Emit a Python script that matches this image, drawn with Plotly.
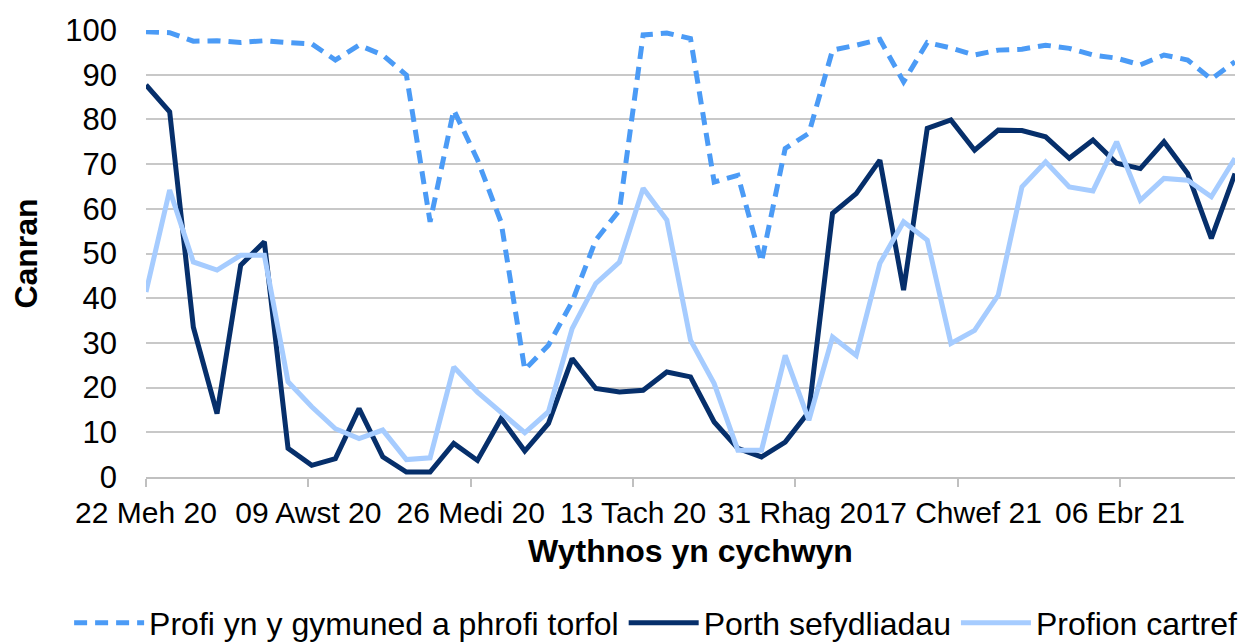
import plotly.graph_objects as go

weeks = [
    "2020-06-22", "2020-06-29", "2020-07-06", "2020-07-13", "2020-07-20", "2020-07-27",
    "2020-08-03", "2020-08-10", "2020-08-17", "2020-08-24", "2020-08-31", "2020-09-07",
    "2020-09-14", "2020-09-21", "2020-09-28", "2020-10-05", "2020-10-12", "2020-10-19",
    "2020-10-26", "2020-11-02", "2020-11-09", "2020-11-16", "2020-11-23", "2020-11-30",
    "2020-12-07", "2020-12-14", "2020-12-21", "2020-12-28", "2021-01-04", "2021-01-11",
    "2021-01-18", "2021-01-25", "2021-02-01", "2021-02-08", "2021-02-15", "2021-02-22",
    "2021-03-01", "2021-03-08", "2021-03-15", "2021-03-22", "2021-03-29", "2021-04-05",
    "2021-04-12", "2021-04-19", "2021-04-26", "2021-05-03", "2021-05-10",
]

profi_gymuned = [
    99.6, 99.4, 97.5, 97.6, 97.2, 97.6, 97.2, 96.9, 93.3, 96.6,
    94.4, 89.9, 57.1, 82.1, 71.0, 57.0, 24.0, 29.5, 39.2, 53.0,
    59.7, 98.9, 99.3, 98.1, 66.0, 67.5, 48.1, 73.5, 76.9, 95.5,
    96.6, 97.9, 88.4, 97.2, 96.0, 94.4, 95.5, 95.7, 96.6, 95.9,
    94.4, 93.7, 92.2, 94.4, 93.3, 89.0, 92.9,
]

porth_sefydliadau = [
    87.7, 81.7, 33.5, 14.2, 47.4, 52.6, 6.4, 2.6, 4.1, 15.3,
    4.5, 1.1, 1.1, 7.5, 3.7, 13.1, 5.8, 12.0, 26.5, 19.8,
    19.0, 19.4, 23.5, 22.4, 12.3, 6.4, 4.5, 7.8, 14.6, 59.0,
    63.4, 70.9, 41.8, 78.0, 79.9, 73.1, 77.6, 77.5, 76.1, 71.3,
    75.4, 70.2, 69.0, 75.0, 67.9, 53.4, 67.9,
]

profion_cartref = [
    41.4, 64.2, 48.1, 46.3, 49.6, 49.6, 21.3, 15.7, 10.8, 8.6,
    10.5, 3.9, 4.3, 24.6, 19.0, 14.6, 9.9, 14.6, 33.2, 43.3,
    48.1, 64.6, 57.5, 30.6, 20.9, 6.0, 6.0, 27.2, 12.7, 31.3,
    27.2, 47.8, 57.1, 53.0, 29.9, 32.8, 40.7, 64.9, 70.5, 64.9,
    64.0, 75.0, 61.9, 66.8, 66.4, 62.7, 71.3,
]

tick_dates = ["2020-06-22", "2020-08-09", "2020-09-26", "2020-11-13",
              "2020-12-31", "2021-02-17", "2021-04-06"]
tick_labels = ["22 Meh 20", "09 Awst 20", "26 Medi 20", "13 Tach 20",
               "31 Rhag 20", "17 Chwef 21", "06 Ebr 21"]

FONT = "Liberation Sans, Arial, sans-serif"

fig = go.Figure()
fig.add_trace(go.Scatter(
    x=weeks, y=profi_gymuned, mode="lines",
    name="Profi yn y gymuned a phrofi torfol",
    line=dict(color="#4b9bf6", width=5, dash="13px,8px"),
))
fig.add_trace(go.Scatter(
    x=weeks, y=porth_sefydliadau, mode="lines",
    name="Porth sefydliadau",
    line=dict(color="#062f6b", width=5),
))
fig.add_trace(go.Scatter(
    x=weeks, y=profion_cartref, mode="lines",
    name="Profion cartref",
    line=dict(color="#a6ccff", width=5),
))

# The page body adds an 8px offset, so the figure is 8px smaller and margins compensate.
fig.update_layout(
    width=1244, height=635,
    margin=dict(l=138, r=17, t=22, b=166, autoexpand=False),
    paper_bgcolor="white", plot_bgcolor="white",
    font=dict(family=FONT, size=30, color="#000000"),
    showlegend=True,
    legend=dict(
        orientation="h", xref="paper", yref="paper",
        x=-0.0706, xanchor="left", y=-0.265, yanchor="top",
        font=dict(size=32), itemwidth=70, tracegroupgap=0,
        bgcolor="rgba(0,0,0,0)",
    ),
    xaxis=dict(
        type="date", automargin=False,
        range=["2020-06-22", "2021-05-10"],
        tickmode="array", tickvals=tick_dates, ticktext=tick_labels,
        tickangle=0,
        ticks="outside", ticklen=8, tickwidth=1.5, tickcolor="#c0c0c0",
        showline=True, linecolor="#c0c0c0", linewidth=1.5,
        showgrid=False, zeroline=False,
        tickfont=dict(size=30),
        title=dict(text="<b>Wythnos yn cychwyn</b>", font=dict(size=32), standoff=12),
    ),
    yaxis=dict(
        range=[0, 100], automargin=False,
        tickvals=[0, 10, 20, 30, 40, 50, 60, 70, 80, 90, 100],
        showgrid=True, gridcolor="#c8c8c8", gridwidth=1.5,
        zeroline=False, showline=False,
        ticks="", ticklabelstandoff=28,
        tickfont=dict(size=31),
        title=dict(text="<b>Canran</b>", font=dict(size=32), standoff=20),
    ),
)

fig.write_html("out.html")
